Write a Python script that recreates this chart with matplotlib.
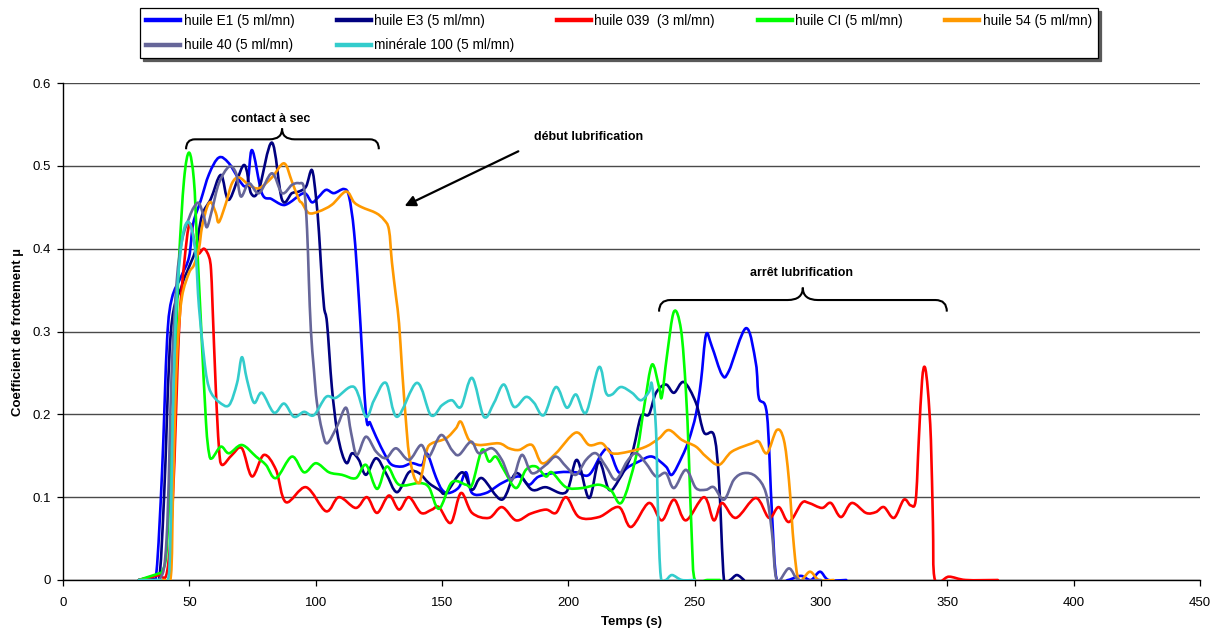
import numpy as np
import matplotlib
matplotlib.use("Agg")
import matplotlib.pyplot as plt
from matplotlib.path import Path
from matplotlib.patches import PathPatch
from matplotlib.lines import Line2D

plt.rcParams['font.family'] = ['Liberation Sans', 'DejaVu Sans']

# ---------------------------------------------------------------- data
t_e1 = [30, 35, 37, 39.2, 41.2, 43.1, 46.7, 49.9, 51.5, 54.5, 57.8, 61.7, 65.7, 72.4, 74.8, 78.7,
        82.5, 86.7, 89.4, 95.4, 98.5, 101, 104.1, 107.2, 111.2, 113.2, 115.2, 117.1, 119.9, 121.5,
        123.9, 127.8, 130.2, 134.2, 138.1, 142.1, 144.0, 147.6, 150.0, 152.7, 156.7, 159.5, 161.9,
        167.4, 173.7, 180.5, 184.4, 188.4, 196.3, 203.0, 208.2, 213.3, 216.1, 220.0, 224.0, 227.9,
        233.1, 238.6, 241.0, 245.0, 247.7, 250.5, 252.5, 254.5, 256.8, 260.8, 263.5, 270.3, 274.2,
        275.4, 278.6, 280.6, 282.5, 287, 292, 296, 299.6, 303, 310]
mu_e1 = [0, 0.002, 0.01, 0.13, 0.29, 0.34, 0.366, 0.39, 0.43, 0.458, 0.49, 0.51, 0.503, 0.475, 0.519,
         0.467, 0.46, 0.453, 0.455, 0.467, 0.456, 0.462, 0.471, 0.467, 0.472, 0.463, 0.42, 0.34, 0.2,
         0.19, 0.173, 0.149, 0.139, 0.137, 0.141, 0.139, 0.153, 0.124, 0.109, 0.105, 0.112, 0.13,
         0.105, 0.105, 0.117, 0.125, 0.115, 0.125, 0.13, 0.13, 0.127, 0.153, 0.157, 0.13, 0.137,
         0.143, 0.149, 0.137, 0.127, 0.149, 0.169, 0.2, 0.24, 0.296, 0.282, 0.248, 0.252, 0.304,
         0.262, 0.22, 0.2, 0.08, 0, 0, 0.005, 0, 0.01, 0, 0]

t_e3 = [30, 35, 38, 40, 42.7, 47.1, 49.9, 52.6, 55.0, 58.5, 62.5, 65.7, 71.6, 74.4, 77.5, 82.7, 86.7,
        90.6, 93.4, 96.2, 98.5, 100.1, 101.3, 102.1, 103.3, 104.5, 106.4, 108.4, 110.4, 112.4, 114.4,
        117.1, 119.9, 123.9, 127.8, 132.2, 136.9, 140.9, 144.8, 148.8, 151.6, 157.9, 161.9, 165.8,
        173.7, 179.3, 185.6, 191.1, 199.1, 203.4, 208.2, 212.1, 216.1, 220.0, 225.2, 228.7, 231.9,
        234.7, 238.6, 241.8, 245.7, 250.5, 253.7, 257.6, 259.6, 261.6, 264, 266.7, 269.5]
mu_e3 = [0, 0.003, 0.0, 0.1, 0.3, 0.356, 0.378, 0.40, 0.44, 0.46, 0.489, 0.459, 0.501, 0.467, 0.471,
         0.528, 0.459, 0.467, 0.469, 0.475, 0.495, 0.463, 0.42, 0.38, 0.33, 0.31, 0.233, 0.181, 0.153,
         0.141, 0.153, 0.145, 0.127, 0.147, 0.129, 0.106, 0.130, 0.129, 0.117, 0.109, 0.105, 0.130,
         0.109, 0.123, 0.097, 0.129, 0.109, 0.112, 0.106, 0.145, 0.099, 0.143, 0.109, 0.121, 0.153,
         0.197, 0.2, 0.226, 0.236, 0.226, 0.239, 0.214, 0.178, 0.175, 0.121, 0, 0, 0.006, 0]

t_039 = [30, 34, 38, 41.2, 43.5, 45.9, 47.9, 50.2, 53.0, 55.8, 57.8, 58.6, 59.2, 60.5, 61.7, 62.9,
         66.9, 70.8, 74.8, 79.5, 84.3, 88.2, 96.2, 104.1, 109.2, 115.9, 120.3, 124.3, 129.0, 133.0,
         136.9, 141.7, 146.0, 148.8, 153.5, 157.5, 161.9, 168.6, 173.7, 179.3, 185, 191.1, 195.1,
         199.1, 204.2, 212.1, 220.0, 224.8, 231.9, 237.0, 241.8, 246.5, 253.7, 257.6, 260.8, 266.3,
         274.2, 279.4, 283.3, 287.3, 292.4, 295.2, 300.4, 303.9, 307.9, 312.2, 317.8, 321.7, 324.9,
         328.9, 332.8, 335.5, 337.5, 338.7, 340.0, 341.1, 342.3, 343.5, 344.3, 345.1, 350.6, 357.3, 370]
mu_039 = [0, 0.003, 0.006, 0.01, 0.1, 0.3, 0.38, 0.43, 0.395, 0.40, 0.39, 0.374, 0.33, 0.229, 0.161,
          0.139, 0.151, 0.159, 0.125, 0.151, 0.133, 0.094, 0.112, 0.083, 0.1, 0.087, 0.1, 0.081,
          0.102, 0.085, 0.1, 0.081, 0.085, 0.088, 0.069, 0.105, 0.081, 0.075, 0.088, 0.072, 0.08,
          0.085, 0.081, 0.1, 0.076, 0.076, 0.088, 0.064, 0.093, 0.072, 0.097, 0.072, 0.1, 0.072,
          0.093, 0.075, 0.099, 0.075, 0.088, 0.07, 0.093, 0.093, 0.087, 0.093, 0.076, 0.093, 0.081,
          0.082, 0.088, 0.075, 0.097, 0.09, 0.097, 0.169, 0.241, 0.257, 0.229, 0.169, 0.069, 0,
          0.004, 0, 0]

t_ci = [30, 34, 38, 39.2, 40.8, 41.9, 43.1, 44.7, 45.9, 47.9, 49.9, 51.8, 53.0, 54.6, 56.6, 57.8,
        59.0, 62.5, 65.7, 70.8, 76.4, 80.3, 84.3, 90.6, 95.4, 100.1, 105.3, 110.4, 115.9, 119.9,
        124.3, 128.2, 133.0, 140.9, 144.8, 148.8, 153.9, 159.5, 161.9, 165.8, 168.6, 171.3, 174.5,
        179.3, 183.2, 187.2, 191.1, 193.5, 199.1, 205.4, 212.1, 216.9, 221.2, 226.8, 230.0, 233.1,
        235.9, 237.0, 239.0, 241.8, 244.6, 246.5, 247.7, 248.9, 250.1, 255, 260]
mu_ci = [0, 0.004, 0.008, 0.01, 0.028, 0.088, 0.169, 0.29, 0.386, 0.483, 0.516, 0.483, 0.41, 0.31,
         0.19, 0.153, 0.147, 0.161, 0.153, 0.163, 0.149, 0.139, 0.123, 0.149, 0.13, 0.141, 0.13,
         0.127, 0.123, 0.139, 0.11, 0.137, 0.115, 0.117, 0.112, 0.086, 0.118, 0.115, 0.115, 0.157,
         0.143, 0.149, 0.133, 0.111, 0.133, 0.137, 0.125, 0.13, 0.112, 0.111, 0.115, 0.108, 0.094,
         0.149, 0.209, 0.26, 0.233, 0.221, 0.27, 0.324, 0.302, 0.23, 0.149, 0.048, 0, 0, 0]

t_54 = [30, 40, 42.7, 43.5, 44.5, 45.5, 47.1, 49.9, 51.8, 53.8, 55.0, 57.0, 58.6, 60.5, 61.7, 64.5,
        66.9, 69.6, 73.6, 77.6, 82.7, 87.5, 90.6, 93.4, 94.6, 97.3, 101.3, 106.4, 112.0, 115.2, 118.3,
        123.9, 127.0, 129.0, 130.2, 131.8, 133.0, 134.2, 135.7, 136.9, 138.9, 140.9, 142.1, 144.0,
        146.0, 151.6, 155.5, 157.5, 160.7, 164.6, 172.5, 176.5, 180.5, 185.6, 189.6, 195.1, 203.0,
        208.2, 213.3, 217.3, 224.0, 230.7, 235.9, 239.8, 245.0, 250.5, 254.5, 259.6, 264.7, 272.7,
        275.4, 278.6, 282.5, 285.3, 287.3, 289.3, 291.3, 295.6, 299.2, 305]
mu_54 = [0, 0, 0.005, 0.1, 0.22, 0.29, 0.342, 0.371, 0.38, 0.4, 0.426, 0.45, 0.456, 0.443, 0.432,
         0.455, 0.479, 0.486, 0.477, 0.473, 0.486, 0.503, 0.481, 0.459, 0.455, 0.443, 0.445, 0.453,
         0.469, 0.456, 0.45, 0.443, 0.435, 0.423, 0.383, 0.342, 0.31, 0.254, 0.193, 0.153, 0.125,
         0.117, 0.129, 0.157, 0.165, 0.171, 0.183, 0.191, 0.169, 0.163, 0.165, 0.159, 0.157, 0.163,
         0.141, 0.153, 0.178, 0.163, 0.165, 0.153, 0.155, 0.161, 0.171, 0.181, 0.169, 0.161, 0.149,
         0.139, 0.155, 0.165, 0.167, 0.153, 0.181, 0.169, 0.121, 0.04, 0, 0.01, 0, 0]

t_40 = [30, 38, 41, 43, 45, 47.1, 49.9, 51.8, 53.8, 55.8, 57.0, 59.0, 61.7, 65.7, 68.5, 70.4, 73.6,
        77.6, 82.7, 86.7, 90.6, 93.4, 95.4, 96.6, 97.3, 98.1, 99.3, 100.5, 102.5, 104.5, 108.4, 112.0,
        114.0, 116.3, 119.9, 123.9, 127.8, 131.8, 136.9, 141.7, 144.8, 149.6, 153.9, 156.7, 161.5,
        164.6, 169.8, 173.7, 177.7, 181.6, 185.6, 191.1, 195.1, 199.1, 203.0, 207.0, 210.9, 214.9,
        218.8, 223.2, 226.8, 230.7, 234.7, 238.6, 241.8, 246.5, 250.5, 254.5, 257.6, 261.6, 265.5,
        269.5, 274.2, 278.2, 280.6, 282.5, 287.3, 291.3, 300]
mu_40 = [0, 0, 0.05, 0.25, 0.36, 0.41, 0.437, 0.45, 0.455, 0.438, 0.426, 0.447, 0.479, 0.499, 0.491,
         0.463, 0.479, 0.467, 0.491, 0.467, 0.477, 0.479, 0.473, 0.423, 0.362, 0.302, 0.254, 0.214,
         0.181, 0.165, 0.185, 0.208, 0.178, 0.151, 0.173, 0.155, 0.147, 0.159, 0.145, 0.163, 0.149,
         0.175, 0.157, 0.151, 0.167, 0.153, 0.159, 0.145, 0.121, 0.151, 0.129, 0.139, 0.149, 0.137,
         0.127, 0.145, 0.153, 0.137, 0.121, 0.143, 0.153, 0.141, 0.125, 0.129, 0.111, 0.133, 0.111,
         0.109, 0.112, 0.097, 0.121, 0.129, 0.125, 0.105, 0.057, 0, 0.014, 0, 0]

t_m100 = [30, 38, 41.5, 42.5, 43.5, 45, 47.1, 49.1, 51.0, 52.6, 53.8, 55.8, 57.0, 58.6, 61.7, 65.7,
          68.9, 70.8, 72.8, 75.6, 78.7, 83.5, 87.5, 91.4, 95.4, 99.3, 104.1, 108.0, 115.2, 119.9,
          123.1, 127.8, 132.2, 140.1, 145.6, 150.0, 153.9, 157.5, 161.9, 166.6, 170.6, 174.5, 178.5,
          183.2, 186.4, 190.3, 195.1, 199.4, 203.0, 207.0, 212.1, 214.9, 217.3, 220.8, 225.2, 228.7,
          231.9, 233.1, 234.7, 235.5, 236.6, 238.6, 241.0, 244.9, 250]
mu_m100 = [0, 0, 0, 0.05, 0.2, 0.34, 0.41, 0.432, 0.423, 0.39, 0.33, 0.269, 0.242, 0.226, 0.215,
           0.211, 0.238, 0.269, 0.242, 0.214, 0.226, 0.202, 0.213, 0.197, 0.203, 0.199, 0.221, 0.22,
           0.233, 0.197, 0.217, 0.238, 0.197, 0.238, 0.199, 0.211, 0.217, 0.209, 0.244, 0.197,
           0.214, 0.236, 0.209, 0.221, 0.214, 0.199, 0.233, 0.208, 0.224, 0.202, 0.257, 0.226,
           0.224, 0.233, 0.226, 0.217, 0.227, 0.236, 0.181, 0.081, 0.004, 0, 0.006, 0, 0]

labels = ["huile E1 (5 ml/mn)", "huile E3 (5 ml/mn)", "huile 039  (3 ml/mn)", "huile CI (5 ml/mn)",
          "huile 54 (5 ml/mn)", "huile 40 (5 ml/mn)", "minérale 100 (5 ml/mn)"]
colors = ["#0000FF", "#000080", "#FF0000", "#00FF00", "#FF9900", "#666699", "#33CCCC"]
series = [(t_e1, mu_e1), (t_e3, mu_e3), (t_039, mu_039), (t_ci, mu_ci),
          (t_54, mu_54), (t_40, mu_40), (t_m100, mu_m100)]

x_ticks = list(range(0, 451, 50))
y_ticks = [0, 0.1, 0.2, 0.3, 0.4, 0.5, 0.6]


def smooth_path(x, y):
    """Smoothed line through the points (cubic Bezier, Catmull-Rom handles)."""
    P = np.column_stack([x, y]).astype(float)
    n = len(P)
    verts = [P[0]]
    codes = [Path.MOVETO]
    for i in range(n - 1):
        p0 = P[i - 1] if i > 0 else P[i]
        p1, p2 = P[i], P[i + 1]
        p3 = P[i + 2] if i + 2 < n else P[i + 1]
        verts += [p1 + (p2 - p0) / 6.0, p2 - (p3 - p1) / 6.0, p2]
        codes += [Path.CURVE4] * 3
    return Path(verts, codes)


def brace(ax, x0, x1, xc, y_end, y_mid, y_tip, d_end, d_mid):
    verts = [(x0, y_end), (x0, y_mid), (x0 + d_end, y_mid),
             (xc - d_mid, y_mid),
             (xc, y_mid), (xc, y_tip),
             (xc, y_mid), (xc + d_mid, y_mid),
             (x1 - d_end, y_mid),
             (x1, y_mid), (x1, y_end)]
    codes = [Path.MOVETO, Path.CURVE3, Path.CURVE3,
             Path.LINETO,
             Path.CURVE3, Path.CURVE3,
             Path.CURVE3, Path.CURVE3,
             Path.LINETO,
             Path.CURVE3, Path.CURVE3]
    ax.add_patch(PathPatch(Path(verts, codes), facecolor="none", edgecolor="black",
                           lw=1.5, clip_on=False, zorder=6))


# ---------------------------------------------------------------- figure
fig = plt.figure(figsize=(12.2, 6.34), dpi=100)
ax = fig.add_axes([63 / 1220, 54 / 634, 1137 / 1220, 497 / 634])

for (tx, my), c in zip(series, colors):
    ax.add_patch(PathPatch(smooth_path(tx, my), facecolor="none", edgecolor=c, lw=1.9,
                           joinstyle="round", capstyle="round", zorder=3))

ax.set_xlim(0, 450)
ax.set_ylim(0, 0.6)
ax.set_xticks(x_ticks)
ax.set_yticks(y_ticks)
ax.set_yticklabels([f"{v:g}" for v in y_ticks])
ax.tick_params(axis="both", direction="out", length=4.5, width=0.9, labelsize=9.5, colors="black")
ax.tick_params(axis="y", pad=4)
ax.tick_params(axis="x", pad=8)
ax.yaxis.grid(True, color="#4a4a4a", lw=1.0)
ax.set_axisbelow(True)
for side in ("top", "right"):
    ax.spines[side].set_visible(False)
for side in ("left", "bottom"):
    ax.spines[side].set_color("black")
    ax.spines[side].set_linewidth(1.0)

ax.set_xlabel("Temps (s)", fontsize=9.5, fontweight="bold", labelpad=5)
ax.set_ylabel("Coefficient de frottement µ", fontsize=9.5, fontweight="bold", labelpad=6)

# annotations
ax.text(82.3, 0.557, "contact à sec", fontsize=9, fontweight="bold", ha="center", va="center")
brace(ax, 48.7, 125.0, 86.7, 0.520, 0.532, 0.545, 3.5, 5.0)
ax.text(208.2, 0.535, "début lubrification", fontsize=9, fontweight="bold", ha="center", va="center")
ax.annotate("", xy=(134.2, 0.450), xytext=(181.2, 0.519),
            arrowprops=dict(arrowstyle="-|>", color="black", lw=1.6, mutation_scale=16))
ax.text(292.4, 0.371, "arrêt lubrification", fontsize=9, fontweight="bold", ha="center", va="center")
brace(ax, 235.9, 349.8, 292.8, 0.324, 0.338, 0.353, 4.5, 6.0)

# legend (entries given column by column so the rows read E1..54 / 40, 100)
handles = [Line2D([], [], color=c, lw=3.2) for c in colors]
order = [0, 5, 1, 6, 2, 3, 4]
leg = fig.legend([handles[i] for i in order], [labels[i] for i in order],
                 loc="upper left", bbox_to_anchor=(140 / 1220, 1 - 56 / 634, 958 / 1220, 48 / 634),
                 mode="expand", ncol=5, fontsize=9.8, frameon=True, fancybox=False,
                 edgecolor="black", handlelength=2.5, handletextpad=0.25, labelspacing=0.75,
                 borderpad=0.45, borderaxespad=0.0,
                 shadow={"ox": 2, "oy": -2, "color": "0.35", "alpha": 1.0})
leg.get_frame().set_linewidth(0.9)

fig.savefig("out.png", dpi=100, facecolor="white")
